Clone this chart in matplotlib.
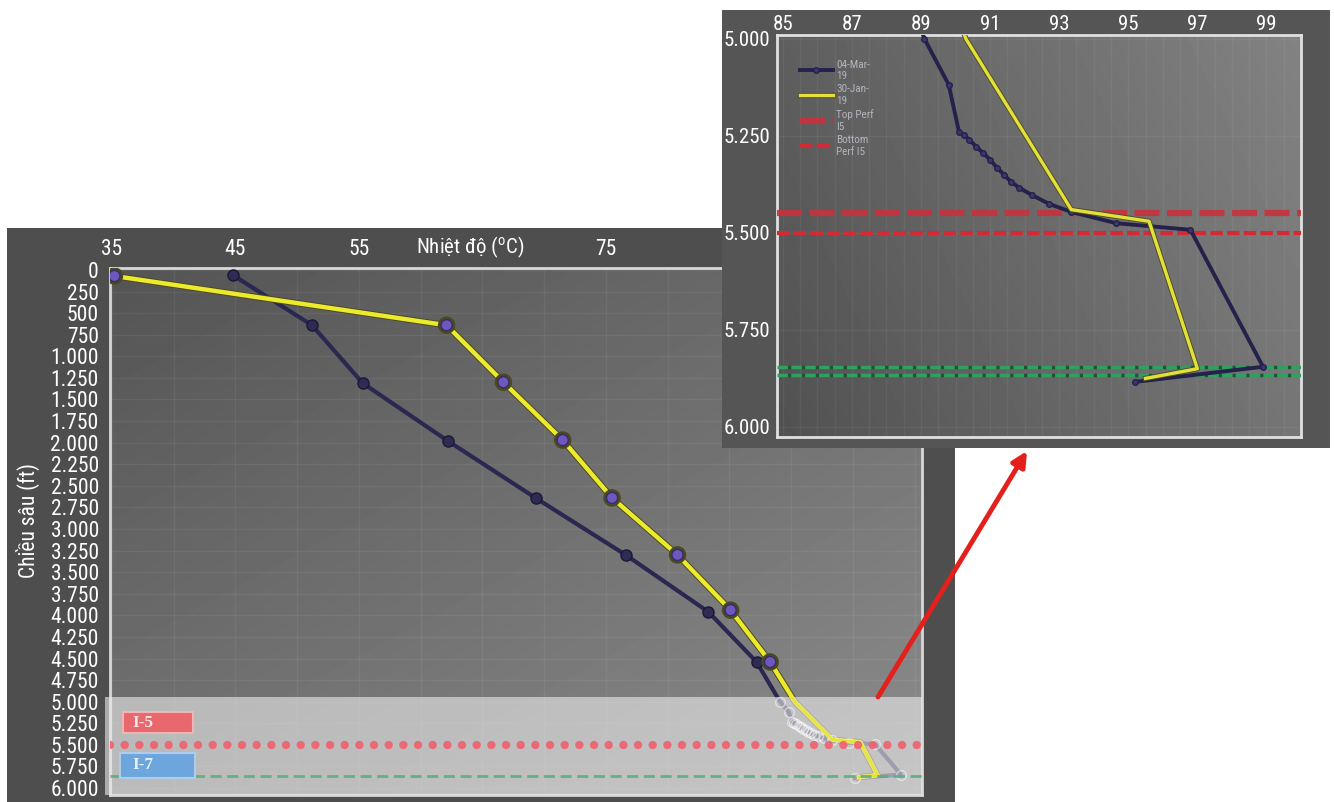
import numpy as np
import matplotlib
matplotlib.use('Agg')
import matplotlib.pyplot as plt
from matplotlib.patches import Rectangle, FancyArrowPatch
import matplotlib.patheffects as pe
import matplotlib.transforms as mtransforms
from matplotlib import font_manager as fm

_avail = {f.name for f in fm.fontManager.ttflist}
FONT = 'DejaVu Sans'
for cand in ['Roboto Condensed', 'IBM Plex Sans Condensed', 'Fira Sans Condensed',
             'PT Sans Narrow', 'Archivo Narrow', 'Liberation Sans Narrow']:
    if cand in _avail:
        FONT = cand
        break
plt.rcParams['font.family'] = [FONT, 'DejaVu Sans']
plt.rcParams['mathtext.fontset'] = 'custom'
plt.rcParams['mathtext.rm'] = FONT

# ---------------- data ----------------
mar_label = '04-Mar-\n19'
mar_temp = [44.8, 51.2, 55.3, 62.2, 69.3, 76.6, 83.3, 87.2, 89.1, 89.8, 90.1, 90.25,
            90.4, 90.6, 90.8, 91.0, 91.2, 91.4, 91.6, 91.85, 92.2, 92.7, 93.35, 94.65,
            96.8, 98.9, 95.2]
mar_depth = [60, 640, 1310, 1980, 2640, 3300, 3960, 4540, 5000, 5118, 5240, 5248,
             5260, 5278, 5294, 5312, 5332, 5350, 5368, 5384, 5402, 5425, 5446, 5475,
             5492, 5845, 5884]
jan_label = '30-Jan-\n19'
jan_temp = [35.2, 62.1, 66.7, 71.5, 75.5, 80.8, 85.1, 88.3, 90.3, 93.35, 95.6, 97.0, 95.5]
jan_depth = [70, 640, 1300, 1970, 2640, 3300, 3940, 4540, 5000, 5440, 5470, 5850, 5875]

perf_i5_depth = [5450, 5500]
perf_i5_labels = ['Top Perf\nI5', 'Bottom\nPerf I5']
perf_i7_depth = [5845, 5865]

main_xticks = [35, 45, 55, 75]
main_xlabels = ['35', '45', '55', '75']
main_yticks = [0, 250, 500, 750, 1000, 1250, 1500, 1750, 2000, 2250, 2500, 2750, 3000,
               3250, 3500, 3750, 4000, 4250, 4500, 4750, 5000, 5250, 5500, 5750, 6000]
main_ylabels = ['0', '250', '500', '750', '1.000', '1.250', '1.500', '1.750', '2.000',
                '2.250', '2.500', '2.750', '3.000', '3.250', '3.500', '3.750', '4.000',
                '4.250', '4.500', '4.750', '5.000', '5.250', '5.500', '5.750', '6.000']
inset_xticks = [85, 87, 89, 91, 93, 95, 97, 99]
inset_xlabels = ['85', '87', '89', '91', '93', '95', '97', '99']
inset_yticks = [5000, 5250, 5500, 5750, 6000]
inset_ylabels = ['5.000', '5.250', '5.500', '5.750', '6.000']

xlabel_text = 'Nhiệt độ ($\\mathrm{^{o}}$C)'
ylabel_text = 'Chiều sâu (ft)'
zone_labels = ['I-5', 'I-7']
shade_top = 4950

# ---------------- figure ----------------
W, H = 1334, 802
fig = plt.figure(figsize=(W / 100, H / 100), dpi=100)
fig.patch.set_facecolor('white')


def fx(px):
    return px / W


def fy(py):
    return 1 - py / H


# main panel background
fig.add_artist(Rectangle((fx(7), 0), fx(955) - fx(7), fy(228), transform=fig.transFigure,
                         facecolor='#4e4e4e', edgecolor='none', zorder=-2))

ax = fig.add_axes([fx(110), fy(795), fx(922) - fx(110), fy(268) - fy(795)])
ax.set_zorder(0)

gx, gy = np.meshgrid(np.linspace(0, 1, 64), np.linspace(0, 1, 64))
g_main = 0.33 + 0.10 * gx + 0.12 * gy
ax.imshow(g_main, extent=[0, 1, 0, 1], transform=ax.transAxes, cmap='gray', vmin=0, vmax=1,
          aspect='auto', zorder=-5, interpolation='bicubic')

ax.set_xlim(34.84, 100.6)
ax.set_ylim(6081, -23)
ax.xaxis.tick_top()
ax.set_xticks(main_xticks)
ax.set_xticklabels(main_xlabels)
ax.set_yticks(main_yticks)
ax.set_yticklabels(main_ylabels)
ax.tick_params(axis='both', length=0, colors='white', labelsize=15.5)
ax.tick_params(axis='x', pad=6)
ax.tick_params(axis='y', pad=8)
ax.set_xticks(np.arange(35, 101, 5), minor=True)
ax.tick_params(which='minor', length=0)
ax.grid(True, which='both', color='white', alpha=0.06, lw=1)
for s in ax.spines.values():
    s.set_color('#d8d8d8')
    s.set_linewidth(2)

ax.annotate(xlabel_text, xy=(64.0, 1), xycoords=('data', 'axes fraction'),
            xytext=(0, 6), textcoords='offset points', ha='center', va='bottom',
            color='white', fontsize=15)
ax.text(-0.101, 0.52, ylabel_text, transform=ax.transAxes, rotation=90, ha='center',
        va='center', color='white', fontsize=15.5)

# main series (markers only above the shaded zone)
mar_mk = np.array(mar_depth) < shade_top
jan_mk = np.array(jan_depth) < shade_top
ax.plot(mar_temp, mar_depth, color='#2a2850', lw=3, marker='o', ms=8, markevery=mar_mk,
        mfc='#2e2c52', mec='#1a1838', zorder=3)
ax.plot(jan_temp, jan_depth, color='#ecea2c', lw=3.2, marker='o', ms=8, markevery=jan_mk,
        mfc='#6e58be', mec='#3a2a70', zorder=4,
        path_effects=[pe.Stroke(linewidth=4.6, foreground='#4a4a22'), pe.Normal()])

# shaded zone
btrans = mtransforms.blended_transform_factory(ax.transAxes, ax.transData)
shade = Rectangle((-0.006, shade_top), 1.006, 6081 - shade_top, transform=btrans,
                  facecolor='#ececec', edgecolor='none', alpha=0.6, zorder=5, clip_on=False)
ax.add_patch(shade)
ax.plot(mar_temp, mar_depth, ls='none', marker='o', ms=7, markevery=~mar_mk, mfc='none',
        mec='#ffffff', mew=1, alpha=0.5, zorder=5.2)
yl = ax.plot(jan_temp, jan_depth, color='#e8e43a', lw=2.2, zorder=5.5)[0]
yl.set_clip_path(shade)

ax.axhline(perf_i5_depth[1], color='#f0606e', lw=6, ls=(0, (0.01, 1.75)),
           dash_capstyle='round', alpha=0.9, zorder=6)
ax.axhline(perf_i7_depth[1], color='#5aae80', lw=2, ls=(0, (4, 2)), alpha=0.9, zorder=6)

ax.add_patch(Rectangle((0.016, 0.1176), 0.086, 0.04, transform=ax.transAxes,
                       facecolor='#e8686e', edgecolor='#f0b4b4', lw=1.5, zorder=7))
ax.add_patch(Rectangle((0.0123, 0.032), 0.0924, 0.0477, transform=ax.transAxes,
                       facecolor='#6ca6dc', edgecolor='#b0cce8', lw=1.5, zorder=7))
ax.text(0.028, 0.137, zone_labels[0], transform=ax.transAxes, ha='left', va='center',
        color='#fbe6e6', fontsize=12.5, fontweight='bold', family='Liberation Serif', zorder=8)
ax.text(0.028, 0.056, zone_labels[1], transform=ax.transAxes, ha='left', va='center',
        color='#e6f0fb', fontsize=12.5, fontweight='bold', family='Liberation Serif', zorder=8)

# ---------------- inset ----------------
fig.add_artist(Rectangle((fx(722), fy(448)), fx(1330) - fx(722), fy(10) - fy(448),
                         transform=fig.transFigure, facecolor='#555555', edgecolor='none',
                         zorder=1))
axi = fig.add_axes([fx(777), fy(437), fx(1301) - fx(777), fy(35) - fy(437)])
axi.set_zorder(2)
g_in = 0.37 + 0.14 * gx - 0.05 * gy
axi.imshow(g_in, extent=[0, 1, 0, 1], transform=axi.transAxes, cmap='gray', vmin=0, vmax=1,
           aspect='auto', zorder=-5, interpolation='bicubic')
axi.set_xlim(84.83, 100)
axi.set_ylim(6026, 4990)
axi.xaxis.tick_top()
axi.set_xticks(inset_xticks)
axi.set_xticklabels(inset_xlabels)
axi.set_yticks(inset_yticks)
axi.set_yticklabels(inset_ylabels)
axi.tick_params(axis='both', length=0, colors='white', labelsize=15)
axi.tick_params(axis='x', pad=1)
axi.tick_params(axis='y', pad=5)
axi.set_xticks(np.arange(85, 100.1, 0.5), minor=True)
axi.tick_params(which='minor', length=0)
axi.grid(True, which='both', color='white', alpha=0.05, lw=1)
for s in axi.spines.values():
    s.set_color('#e0e0e0')
    s.set_linewidth(2)

l_top = axi.axhline(perf_i5_depth[0], color='#c8323c', lw=4.5, ls=(0, (4, 1.2)),
                    alpha=0.9, zorder=3, label=perf_i5_labels[0])
l_bot = axi.axhline(perf_i5_depth[1], color='#d42a36', lw=3, ls=(0, (3, 1)),
                    zorder=3, label=perf_i5_labels[1])
for d in perf_i7_depth:
    axi.axhline(d, color='#2fa060', lw=2.5, ls=(0, (3, 1)), gapcolor='#24503a', zorder=3)

l_mar, = axi.plot(mar_temp, mar_depth, color='#24224a', lw=2.8, marker='o', ms=4,
                  mfc='#3a3672', mec='#24224a', zorder=4, label=mar_label)
l_jan, = axi.plot(jan_temp, jan_depth, color='#e4e03a', lw=2.4, zorder=5, label=jan_label,
                  path_effects=[pe.Stroke(linewidth=3.8, foreground='#505028'), pe.Normal()])

axi.legend(handles=[l_mar, l_jan, l_top, l_bot], loc='upper left',
           bbox_to_anchor=(0.035, 0.95), frameon=False, fontsize=8,
           labelcolor='#b4b4bc', handlelength=3, handletextpad=0.3, labelspacing=0.3,
           borderaxespad=0)

# arrow
fig.add_artist(FancyArrowPatch((fx(878), fy(697)), (fx(1027), fy(451)),
                               transform=fig.transFigure, arrowstyle='-|>', mutation_scale=22,
                               lw=3.5, color='#e3201b', shrinkA=0, shrinkB=0, zorder=5))

fig.savefig('out.png', dpi=100, facecolor='white')
